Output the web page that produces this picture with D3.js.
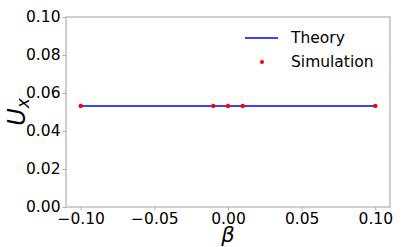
<!DOCTYPE html>
<html>
<head>
<meta charset="utf-8">
<script src="https://cdn.jsdelivr.net/npm/d3@7"></script>
<style>
  body { margin: 0; background: #fff; }
  svg { display: block; font-family: "DejaVu Sans", sans-serif; }
</style>
</head>
<body>
<svg id="chart" width="415" height="247"></svg>
<script>
// theory curve (flat) and simulation points
const theoryBeta = [-0.1, 0.1];
const theoryU = [0.0532, 0.0532];
const simBeta = [-0.1, -0.01, 0, 0.01, 0.1];
const simU = [0.0532, 0.0532, 0.0532, 0.0532, 0.0532];
const xTicks = [-0.10, -0.05, 0.00, 0.05, 0.10];
const yTicks = [0.00, 0.02, 0.04, 0.06, 0.08, 0.10];

const margin = { top: 17, right: 25, bottom: 40, left: 66 };
const width = 415 - margin.left - margin.right;
const height = 247 - margin.top - margin.bottom;

const svg = d3.select("#chart")
  .append("g")
  .attr("transform", `translate(${margin.left},${margin.top})`);

const x = d3.scaleLinear().domain([-0.11, 0.11]).range([0, width]);
const y = d3.scaleLinear().domain([0, 0.1]).range([height, 0]);

const fmt = d3.format(".2f");
const tickFmt = (d) => fmt(d).replace("-", "\u2212");

// axes
const xAxis = svg.append("g")
  .attr("transform", `translate(0,${height})`)
  .call(d3.axisBottom(x).tickValues(xTicks).tickFormat(tickFmt).tickSize(3.5).tickPadding(2.5));
const yAxis = svg.append("g")
  .call(d3.axisLeft(y).tickValues(yTicks).tickFormat(tickFmt).tickSize(3.5).tickPadding(2));

[xAxis, yAxis].forEach((g) => {
  g.select(".domain").remove();
  g.selectAll(".tick line").attr("stroke", "#b0b0b0");
  g.selectAll(".tick text").attr("fill", "#000").style("font-size", "15.5px")
    .style("font-family", "DejaVu Sans, sans-serif");
});

// frame
svg.append("rect")
  .attr("width", width)
  .attr("height", height)
  .attr("fill", "none")
  .attr("stroke", "#b0b0b0")
  .attr("stroke-width", 1.2);

// theory line
const line = d3.line()
  .x((d, i) => x(theoryBeta[i]))
  .y((d) => y(d));
svg.append("path")
  .datum(theoryU)
  .attr("fill", "none")
  .attr("stroke", "#0000ff")
  .attr("stroke-width", 1.5)
  .attr("d", line);

// simulation points
svg.selectAll(".pt")
  .data(simU)
  .enter()
  .append("circle")
  .attr("class", "pt")
  .attr("cx", (d, i) => x(simBeta[i]))
  .attr("cy", (d) => y(d))
  .attr("r", 2.2)
  .attr("fill", "#ff0000");

// legend
const legend = svg.append("g").attr("transform", `translate(${245 - margin.left},${38 - margin.top})`);
legend.append("line")
  .attr("x1", 0).attr("x2", 33)
  .attr("y1", 0).attr("y2", 0)
  .attr("stroke", "#0000ff")
  .attr("stroke-width", 1.5);
legend.append("text")
  .attr("x", 46).attr("y", 0).attr("dy", "0.35em")
  .style("font-size", "15.5px")
  .text("Theory");
legend.append("circle")
  .attr("cx", 17).attr("cy", 24).attr("r", 2)
  .attr("fill", "#ff0000");
legend.append("text")
  .attr("x", 46).attr("y", 24).attr("dy", "0.35em")
  .style("font-size", "15.5px")
  .text("Simulation");

// axis labels
svg.append("text")
  .attr("x", x(0))
  .attr("y", height + 35)
  .attr("text-anchor", "middle")
  .style("font-size", "21px")
  .style("font-style", "italic")
  .text("\u03b2");

const yl = svg.append("text")
  .attr("transform", `translate(${-margin.left + 25},${height / 2}) rotate(-90)`)
  .attr("text-anchor", "middle")
  .style("font-size", "24px")
  .style("font-style", "italic");
yl.append("tspan").text("U");
yl.append("tspan").attr("dy", "4").style("font-size", "17px").text("x");
</script>
</body>
</html>
